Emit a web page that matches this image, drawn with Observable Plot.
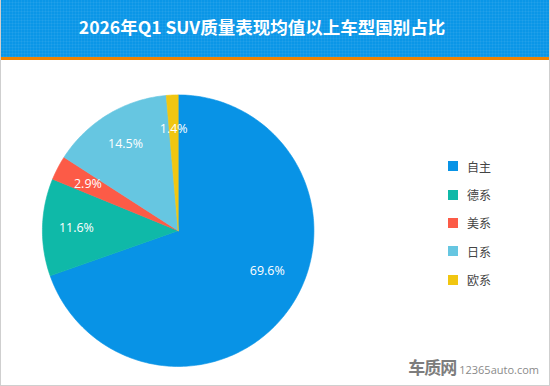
<!DOCTYPE html>
<html>
<head>
<meta charset="utf-8">
<script src="https://cdn.jsdelivr.net/npm/d3@7"></script>
<script src="https://cdn.jsdelivr.net/npm/@observablehq/plot@0.6"></script>
<style>
  html, body { margin: 0; padding: 0; background: #fff; }
  #frame { position: relative; width: 548px; height: 385px; border: 1px solid #cfcfcf; border-top: none; overflow: hidden; font-family: "Noto Sans CJK SC", "Noto Sans", sans-serif; }
  #header { position: absolute; left: -1px; top: 0; width: 550px; height: 57px; background-color: #0a96e7;
    background-image: repeating-linear-gradient(0deg, rgba(255,255,255,0.05) 0 1px, transparent 1px 3px), repeating-linear-gradient(90deg, rgba(255,255,255,0.05) 0 1px, transparent 1px 3px);
    border-bottom: 3px solid #f08300; }
  #title { position: absolute; left: 0; width: 524px; top: 14px; text-align: center; color: #fff; font-weight: bold; font-size: 17.5px; line-height: 26px; letter-spacing: 0; }
  #chart { position: absolute; left: -1px; top: 60px; }
  #legend { position: absolute; left: 447px; top: 152px; }
  .item { display: flex; align-items: center; height: 28.4px; font-size: 12px; color: #444; }
  .sw { width: 10px; height: 10px; margin-right: 9px; }
  #wm { position: absolute; right: 10px; bottom: 6px; color: #8a8a8a; display: flex; align-items: baseline; }
  #wm .cn { font-size: 17px; font-weight: bold; letter-spacing: -1px; color: #7d7d7d; margin-right: 3px; }
  #wm .en { font-size: 11px; font-family: "Open Sans", sans-serif; }
</style>
</head>
<body>
<div id="frame">
  <div id="header"><div id="title">2026年Q1 SUV质量表现均值以上车型国别占比</div></div>
  <div id="chart"></div>
  <div id="legend"></div>
  <div id="wm"><span class="cn">车质网</span><span class="en">12365auto.com</span></div>
</div>
<script>
const categories = ["自主", "德系", "美系", "日系", "欧系"];
const shares = [69.6, 11.6, 2.9, 14.5, 1.4];
const colors = ["#0893e6", "#0fb9a8", "#fc5b47", "#66c6e1", "#f1c611"];

// pie geometry (angles clockwise from 12 o'clock)
const total = d3.sum(shares);
const slicePts = [];
const labels = [];
let acc = 0;
categories.forEach((c, i) => {
  const a0 = acc / total * 2 * Math.PI;
  acc += shares[i];
  const a1 = acc / total * 2 * Math.PI;
  const n = Math.max(2, Math.ceil((a1 - a0) / (Math.PI / 180)));
  slicePts.push({cat: c, x: 0, y: 0});
  for (let k = 0; k <= n; k++) {
    const a = a0 + (a1 - a0) * k / n;
    slicePts.push({cat: c, x: Math.sin(a), y: Math.cos(a)});
  }
  slicePts.push({cat: c, x: 0, y: 0});
  const am = (a0 + a1) / 2;
  const r = 0.75;
  labels.push({cat: c, big: shares[i] > 50, x: r * Math.sin(am), y: r * Math.cos(am), text: shares[i].toFixed(1) + "%"});
});

const W = 550, H = 326, cx = 178, cy = 170.5, R = 136;
const font = "Open Sans, Noto Sans, sans-serif";
const chart = Plot.plot({
  width: W, height: H,
  marginLeft: cx - R, marginRight: W - (cx + R),
  marginTop: cy - R, marginBottom: H - (cy + R),
  x: {domain: [-1, 1], axis: null},
  y: {domain: [-1, 1], axis: null},
  color: {domain: categories, range: colors},
  style: {background: "transparent", overflow: "visible"},
  marks: [
    Plot.line(slicePts, {x: "x", y: "y", z: "cat", fill: "cat", stroke: "cat", strokeWidth: 0.6, curve: "linear"}),
    Plot.text(labels.filter(d => !d.big), {x: "x", y: "y", text: "text", fill: "white", fontSize: 12.5, fontFamily: font}),
    Plot.text(labels.filter(d => d.big), {x: "x", y: "y", text: "text", fill: "white", fontSize: 12.5, fontFamily: font, dx: 6, dy: -19})
  ]
});
document.getElementById("chart").appendChild(chart);

const lg = document.getElementById("legend");
categories.forEach((c, i) => {
  const d = document.createElement("div");
  d.className = "item";
  d.innerHTML = `<span class="sw" style="background:${colors[i]}"></span><span>${c}</span>`;
  lg.appendChild(d);
});
</script>
</body>
</html>
